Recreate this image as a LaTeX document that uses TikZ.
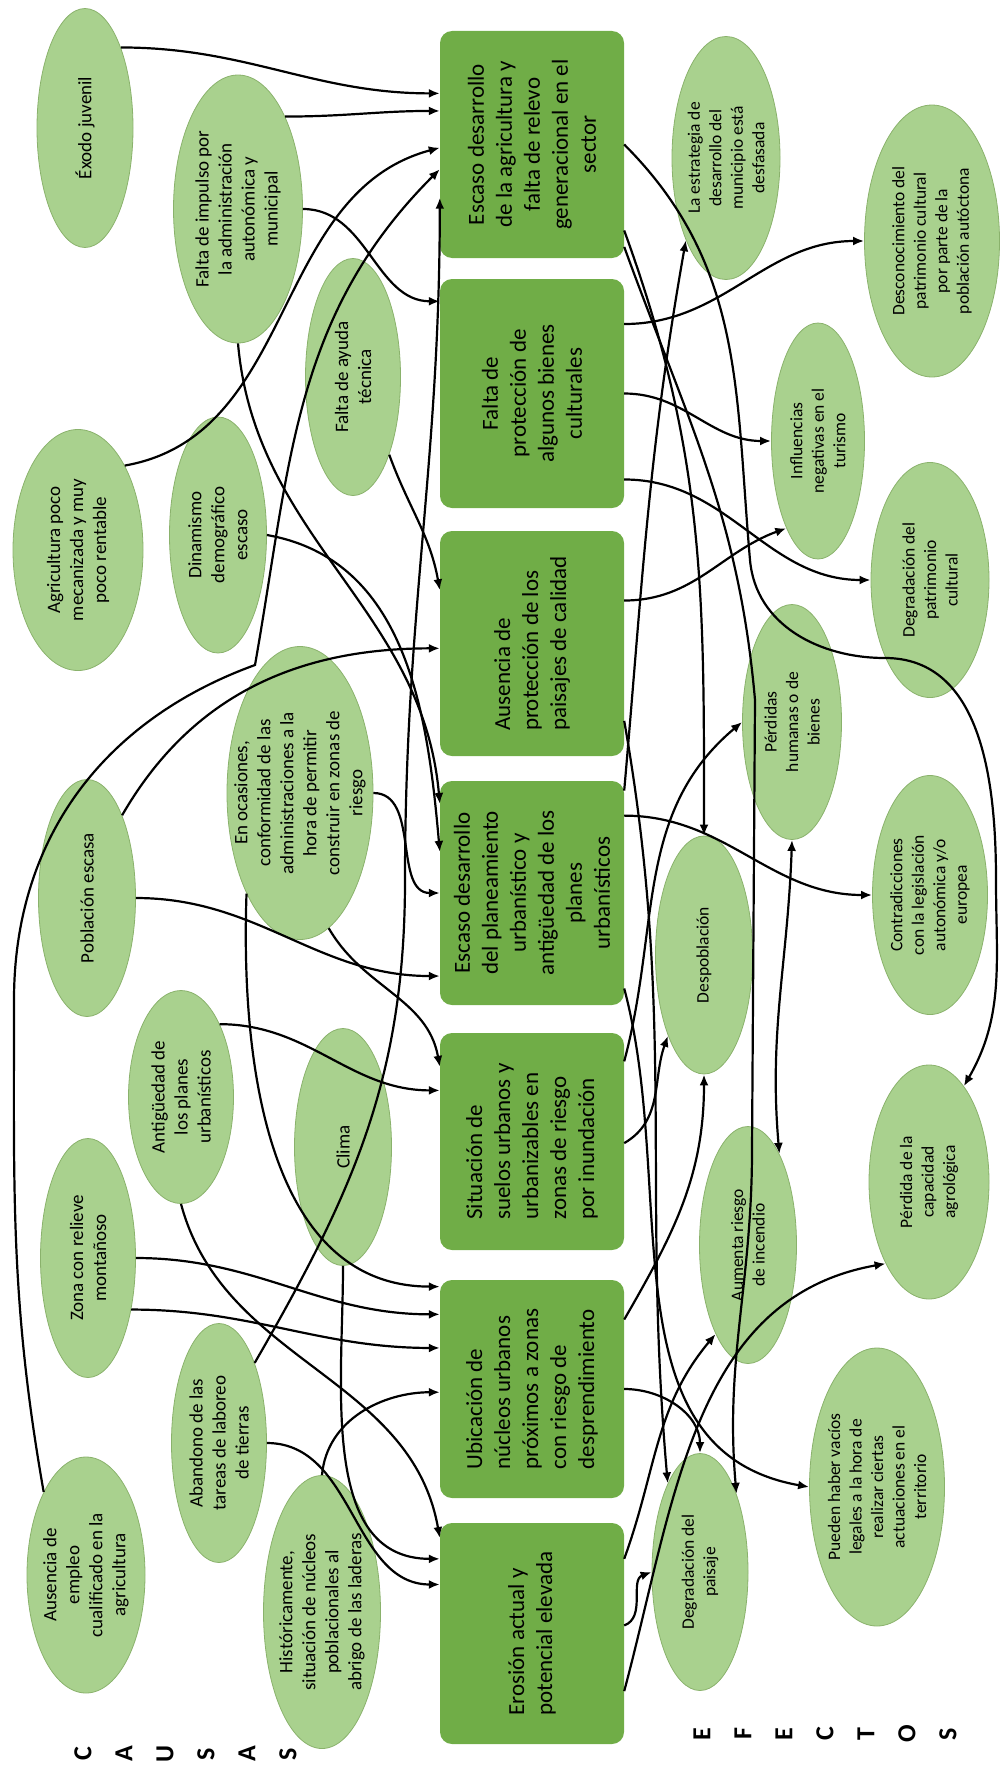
\documentclass[tikz,border=0pt]{standalone}
\usepackage{fontspec}
\setmainfont{Carlito}
\usetikzlibrary{arrows.meta,shapes.geometric}
\definecolor{ellfill}{RGB}{169,209,142}
\definecolor{ellline}{RGB}{138,178,108}
\definecolor{boxfill}{RGB}{112,173,71}

\begin{document}
\begin{tikzpicture}[x=1pt, y=-1pt,
  >={Latex[length=11pt,width=9pt]},
  cause/.style={ellipse, draw=ellline, line width=0.8pt, fill=ellfill, rotate=90,
                inner sep=-6pt, align=center, font=\fontsize{19}{23}\selectfont},
  effect/.style={cause, font=\fontsize{17.5}{21.5}\selectfont},
  prob/.style={rectangle, rounded corners=12pt, fill=boxfill, rotate=90, inner sep=4pt,
               minimum height=184pt, font=\fontsize{23}{28}\selectfont},
  letra/.style={rotate=90, inner sep=0pt, font=\fontsize{26}{26}\selectfont\bfseries},
  link/.style={->, line width=2.2pt},
]
\useasboundingbox (0,0) rectangle (1001,1769);

% causas
\node[cause, minimum width=239pt, minimum height=96pt] (exodo) at (85,128) {Éxodo juvenil};
\node[cause, minimum width=268pt, minimum height=129pt] (impulso) at (238,209)
  {Falta de impulso por\\la administración\\autonómica y\\municipal};
\node[cause, minimum width=237pt, minimum height=95pt] (ayuda) at (353,377) {Falta de ayuda\\técnica};
\node[cause, minimum width=241pt, minimum height=130pt] (agricultura) at (78,550)
  {Agricultura poco\\mecanizada y muy\\poco rentable};
\node[cause, minimum width=236pt, minimum height=97pt] (dinamismo) at (218,535)
  {Dinamismo\\demográfico\\escaso};
\node[cause, inner sep=-20pt, minimum width=293pt, minimum height=146pt] (ocasiones) at (300,793)
  {En ocasiones,\\conformidad de las\\administraciones a la\\hora de permitir\\construir en zonas de\\riesgo};
\node[cause, minimum width=237pt, minimum height=97pt] (poblacion) at (87,898) {Población escasa};
\node[cause, minimum width=213pt, minimum height=105pt] (antiguedad) at (181,1097)
  {Antigüedad de\\los planes\\urbanísticos};
\node[cause, minimum width=237pt, minimum height=97pt] (clima) at (343,1147) {Clima};
\node[cause, minimum width=239pt, minimum height=95pt] (relieve) at (88,1258) {Zona con relieve\\montañoso};
\node[cause, minimum width=239pt, minimum height=95pt] (abandono) at (219,1443)
  {Abandono de las\\tareas de laboreo\\de tierras};
\node[cause, minimum width=236pt, minimum height=118pt] (empleo) at (86,1575)
  {Ausencia de\\empleo\\cualificado en la\\agricultura};
\node[cause, minimum width=273pt, minimum height=117pt] (laderas) at (322,1612)
  {Históricamente,\\situación de núcleos\\poblacionales al\\abrigo de las laderas};

% problemas
\node[prob, minimum width=227pt, align=center] (agri) at (532,144.5)
  {Escaso desarrollo\\de la agricultura y\\falta de relevo\\generacional en el\\sector};
\node[prob, minimum width=229pt, align=center] (bienes) at (532,393.5)
  {Falta de\\protección de\\algunos bienes\\culturales};
\node[prob, minimum width=225pt, align=left] (paisajes) at (532,643.5)
  {Ausencia de\\protección de los\\paisajes de calidad};
\node[prob, minimum width=224pt, align=center] (planeam) at (532,893)
  {Escaso desarrollo\\del planeamiento\\urbanístico y\\antigüedad de los\\planes\\urbanísticos};
\node[prob, minimum width=217pt, align=left] (inundacion) at (532,1141.5)
  {Situación de\\suelos urbanos y\\urbanizables en\\zonas de riesgo\\por inundación};
\node[prob, minimum width=218pt, align=left] (desprend) at (532,1389)
  {Ubicación de\\núcleos urbanos\\próximos a zonas\\con riesgo de\\desprendimiento};
\node[prob, minimum width=221pt, align=left] (erosion) at (532,1633.5)
  {Erosión actual y\\potencial elevada};

% efectos
\node[effect, minimum width=243pt, minimum height=108pt] (estrategia) at (726,158)
  {La estrategia de\\desarrollo del\\municipio está\\desfasada};
\node[effect, minimum width=272pt, minimum height=135pt] (desconoc) at (932,241)
  {Desconocimiento del\\patrimonio cultural\\por parte de la\\población autóctona};
\node[effect, minimum width=236pt, minimum height=93pt] (turismo) at (818,441)
  {Influencias\\negativas en el\\turismo};
\node[effect, minimum width=235pt, minimum height=118pt] (patrimonio) at (930,580)
  {Degradación del\\patrimonio\\cultural};
\node[effect, minimum width=235pt, minimum height=99pt] (perdidas) at (792,722)
  {Pérdidas\\humanas o de\\bienes};
\node[effect, minimum width=238pt, minimum height=97pt] (despoblacion) at (704,955) {Despoblación};
\node[effect, minimum width=239pt, minimum height=115pt] (legislacion) at (930,895)
  {Contradicciones\\con la legislación\\autonómica y/o\\europea};
\node[effect, minimum width=234pt, minimum height=120pt] (agrologica) at (929,1182)
  {Pérdida de la\\capacidad\\agrológica};
\node[effect, minimum width=237pt, minimum height=97pt] (incendio) at (748,1245)
  {Aumenta riesgo\\de incendio};
\node[effect, minimum width=237pt, minimum height=96pt] (paisaje) at (700,1572)
  {Degradación del\\paisaje};
\node[effect, minimum width=278pt, minimum height=135pt] (vacios) at (877,1487)
  {Pueden haber vacíos\\legales a la hora de\\realizar ciertas\\actuaciones en el\\territorio};

\foreach \l [count=\i] in {C,A,U,S,A,S}
  \node[letra] (causas\i) at ({42+41*\i},1754) {\l};
\foreach \l [count=\i] in {E,F,E,C,T,O,S}
  \node[letra] (efectos\i) at ({661+41*\i},1734) {\l};

% causas -> problemas
\draw[link] (exodo.336) to[out=0,in=180] (agri.61);
\draw[link] (impulso.333) to[out=0,in=180] (agri.70);
\draw[link] (agricultura.331) to[out=10,in=195] (agri.92);
\draw[link] (empleo.27) to[out=100,in=-90] (14,1000) to[out=90,in=200] (255,665)
  to[out=80,in=225] (agri.105);
\draw[link] (abandono.336) to[out=60,in=-90] (405,880) to[out=90,in=-90] (agri.120);
\draw[link] (impulso.south) to[out=0,in=180] (bienes.45);
\draw[link] (ayuda.205) to[out=-70,in=100] (paisajes.60);
\draw[link] (poblacion.337) to[out=60,in=180] (paisajes.93);
\draw[link] (impulso.west) to[out=-85,in=95] (planeam.46);
\draw[link] (dinamismo.south) to[out=-10,in=95] (planeam.66);
\draw[link] (ocasiones.south) to[out=0,in=180] (planeam.north);
\draw[link] (poblacion.south) to[out=0,in=180] (planeam.132);
\draw[link] (ocasiones.192) to[out=-60,in=100] (inundacion.51);
\draw[link] (antiguedad.332) to[out=0,in=180] (inundacion.61);
\draw[link] (ocasiones.152) to[out=-92,in=180] (desprend.42);
\draw[link] (relieve.south) to[out=0,in=180] (desprend.51);
\draw[link] (relieve.220) to[out=0,in=180] (desprend.66);
\draw[link] (laderas.east) to[out=85,in=180] (desprend.92);
\draw[link] (antiguedad.west) to[out=-75,in=100] (erosion.44);
\draw[link] (clima.west) to[out=-90,in=180] (erosion.51);
\draw[link] (abandono.south) to[out=0,in=180] (erosion.62);

% problemas -> efectos
\draw[link] (agri.227) to[out=-70,in=90] (despoblacion.east);
\draw[link] (agri.south) to[out=-45,in=95] (750,560) to[out=-85,in=180] (885,658)
  to[out=0,in=90] (996,880) to[out=-90,in=60] (agrologica.340);
\draw[link] (agri.222) to[out=-70,in=95] (755,700) -- (752,1150)
  to[out=-90,in=95] (paisaje.335);
\draw[link] (bienes.307) to[out=0,in=180] (desconoc.north);
\draw[link] (bienes.south) to[out=0,in=180] (turismo.north);
\draw[link] (bienes.227) to[out=0,in=180] (patrimonio.north);
\draw[link] (paisajes.295) to[out=0,in=200] (turismo.160);
\draw[link] (paisajes.230) to[out=-80,in=95] (paisaje.20);
\draw[link] (planeam.318) to[out=85,in=260] (estrategia.154);
\draw[link] (planeam.310) to[out=0,in=180] (legislacion.north);
\draw[link] (planeam.224) to[out=-75,in=170] (vacios.north);
\draw[link] (inundacion.311) to[out=75,in=220] (perdidas.north);
\draw[link] (inundacion.269) to[out=30,in=250] (despoblacion.156);
\draw[link] (desprend.south) to[out=0,in=90] (paisaje.east);
\draw[link] (desprend.307) to[out=60,in=-90] (despoblacion.west);
\draw[link] (erosion.309) to[out=70,in=230] (incendio.160);
\draw[link] (erosion.238) to[out=75,in=190] (agrologica.152);
\draw[link] (erosion.275) to[out=20,in=200] (paisaje.north);
\draw[link, <->] (perdidas.west) to[out=-92,in=95] (incendio.341);
\end{tikzpicture}
\end{document}
